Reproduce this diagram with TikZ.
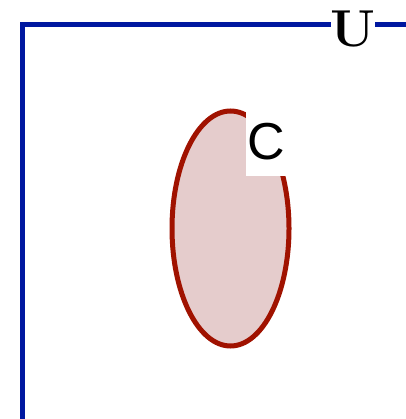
\documentclass[tikz,border=0pt]{standalone}
\usepackage{fontspec}
\usepackage{tikz}
\usepackage{xcolor}
\newfontfamily\labelsans{Liberation Sans}
\definecolor{univblue}{RGB}{0,24,160}
\definecolor{setred}{RGB}{160,18,0}
\definecolor{setfill}{RGB}{229,204,204}

\begin{document}
\begin{tikzpicture}[x=1pt, y=-1pt]
    \useasboundingbox (0,0) rectangle (405,419);

    % universe
    \draw[univblue, line width=5pt] (22,25) rectangle (430,421);
    \node[fill=white, inner sep=0pt, minimum width=43pt, minimum height=30pt,
          font=\fontsize{52}{52}\selectfont\bfseries] (univ) at (353,29) {U};

    % the set
    \draw[setred, fill=setfill, line width=5pt] (230.5,228.5) ellipse [x radius=58.5, y radius=117.5];
    \node[fill=white, inner sep=0pt, minimum width=42pt, minimum height=66pt,
          anchor=north west] (cset) at (246,110) {};
    \node[font=\labelsans\fontsize{52}{52}\selectfont, inner sep=0pt] (clab) at (266,142) {C};
\end{tikzpicture}
\end{document}
